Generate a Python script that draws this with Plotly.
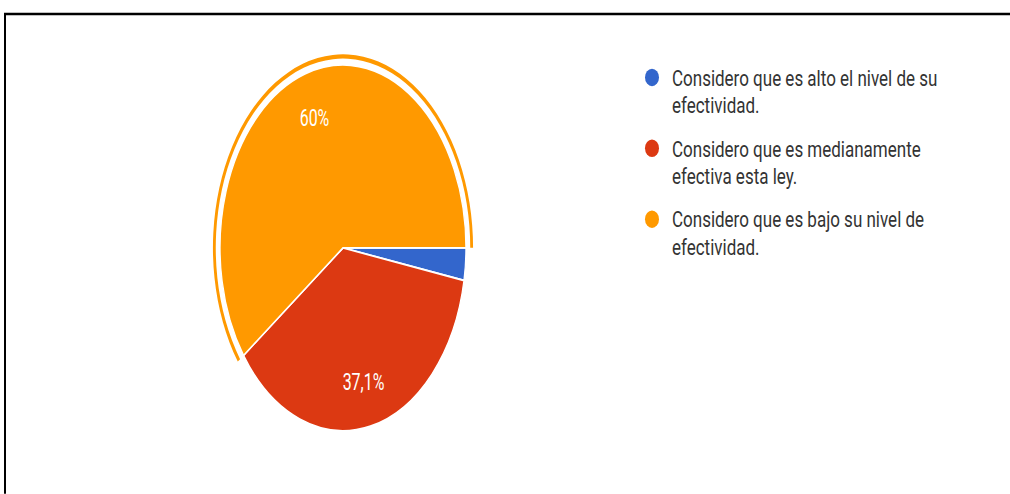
import textwrap
import plotly.graph_objects as go

# ---- data ----
categories = [
    "Considero que es alto el nivel de su efectividad.",
    "Considero que es medianamente efectiva esta ley.",
    "Considero que es bajo su nivel de efectividad.",
]
counts = [1, 13, 21]
colors = ["#3366cc", "#dc3912", "#ff9900"]
label_formats = ["", "%{percent:.1%}", "%{percent:.0%}"]
highlighted = [False, False, True]

# ---- geometry (pre-stretch figure space) ----
W = 1010
S = 1.25                     # vertical stretch applied to the whole page
H = 494 / S
CX = 343.0                   # pie centre x (px)
CY = 248.0 / S               # pie centre y (px from top)
R = 183.0 / S                # pie radius before horizontal squeeze
KX = 123.0 / R               # horizontal squeeze of the pie layer
RING_OUT = 1.058
RING_IN = 1.035
LABEL_HOLE = 0.5             # labels sit midway in this band


def dom(radius):
    return dict(
        x=[(CX - radius) / W, (CX + radius) / W],
        y=[1 - (CY + radius) / H, 1 - (CY - radius) / H],
    )


fig = go.Figure()

# slices
fig.add_trace(go.Pie(
    labels=categories,
    values=counts,
    sort=False,
    direction="clockwise",
    rotation=90,
    marker=dict(colors=colors, line=dict(color="white", width=1.5)),
    textinfo="none",
    showlegend=False,
    hoverinfo="skip",
    domain=dom(R),
))

# percentage labels (transparent band so labels sit at ~3/4 radius)
fig.add_trace(go.Pie(
    labels=categories,
    values=counts,
    sort=False,
    direction="clockwise",
    rotation=90,
    hole=LABEL_HOLE,
    marker=dict(colors=["rgba(0,0,0,0)"] * len(counts), line=dict(width=0)),
    texttemplate=label_formats,
    textposition="inside",
    insidetextorientation="horizontal",
    textfont=dict(family="Roboto, Arial, sans-serif", size=19, color="white"),
    showlegend=False,
    hoverinfo="skip",
    domain=dom(R),
))

# highlight ring around the selected slice
ring_colors = [c if h else "rgba(0,0,0,0)" for c, h in zip(colors, highlighted)]
fig.add_trace(go.Pie(
    labels=categories,
    values=counts,
    sort=False,
    direction="clockwise",
    rotation=90,
    hole=RING_IN / RING_OUT,
    marker=dict(colors=ring_colors, line=dict(width=0)),
    textinfo="none",
    showlegend=False,
    hoverinfo="skip",
    domain=dom(R * RING_OUT),
))

# legend entries with round markers
for i, (name, col) in enumerate(zip(categories, colors)):
    fig.add_trace(go.Scatter(
        x=[None], y=[None], mode="markers",
        name="<br>".join(textwrap.wrap(name, width=36)),
        legendgroup="g%d" % i,
        marker=dict(symbol="circle", size=14, color=col),
        hoverinfo="skip",
    ))

fig.update_layout(
    width=W,
    height=H,
    margin=dict(l=0, r=0, t=0, b=0),
    paper_bgcolor="white",
    plot_bgcolor="white",
    separators=",.",
    xaxis=dict(visible=False),
    yaxis=dict(visible=False),
    legend=dict(
        x=632 / W, y=1 - (58.4 - 14) / H,
        xanchor="left", yanchor="top",
        valign="top",
        tracegroupgap=9.5,
        font=dict(family="Roboto, Arial, sans-serif", size=17, color="#333333"),
        bgcolor="rgba(0,0,0,0)",
    ),
    shapes=[dict(
        type="rect", xref="paper", yref="paper",
        x0=5 / W, x1=1.05, y0=-0.05, y1=1 - (14 / S) / H,
        line=dict(color="black", width=2),
        fillcolor="rgba(0,0,0,0)",
    )],
)

post = (
    "var gd = document.getElementById('{plot_id}');"
    "document.body.style.margin = '0';"
    "gd.style.transformOrigin = '0 0';"
    "gd.style.transform = 'scale(1, " + str(S) + ")';"
    "var pl = gd.querySelector('.pielayer');"
    "pl.setAttribute('transform', 'translate(" + str(CX) + ",0) scale(" + str(KX) + ",1) translate(-" + str(CX) + ",0)');"
)

fig.write_html("out.html", post_script=post, config={"displayModeBar": False})
